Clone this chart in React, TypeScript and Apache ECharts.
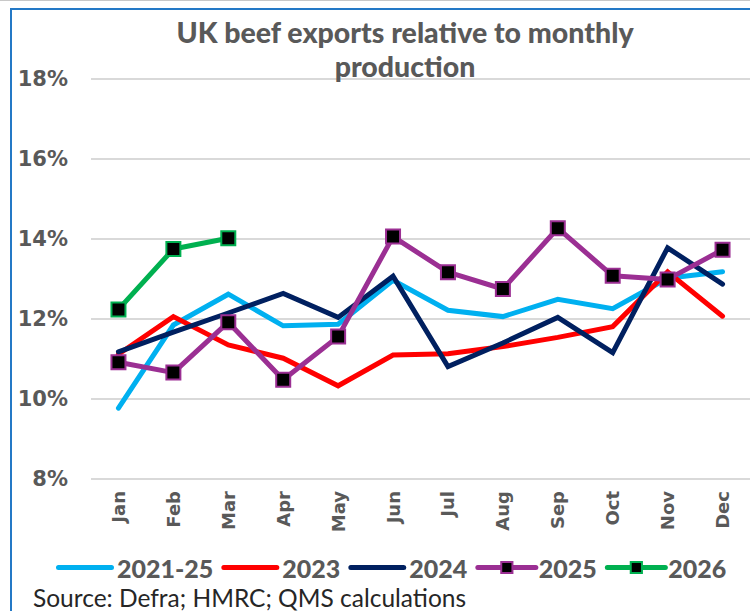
import React, { useEffect, useRef } from "react";
import * as echarts from "echarts";

const months = ["Jan", "Feb", "Mar", "Apr", "May", "Jun", "Jul", "Aug", "Sep", "Oct", "Nov", "Dec"];
const avg2125 = [9.77, 11.85, 12.62, 11.83, 11.87, 12.97, 12.22, 12.06, 12.49, 12.26, 13.02, 13.18];
const y2023 = [11.12, 12.06, 11.35, 11.02, 10.33, 11.1, 11.13, 11.31, 11.54, 11.81, 13.18, 12.07];
const y2024 = [11.18, 11.67, 12.15, 12.64, 12.04, 13.07, 10.81, 11.4, 12.04, 11.16, 13.78, 12.87];
const y2025 = [10.92, 10.66, 11.92, 10.48, 11.56, 14.06, 13.17, 12.75, 14.27, 13.08, 12.99, 13.73];
const y2026 = [12.24, 13.75, 14.02];
const yTicks = { min: 8, max: 18, interval: 2 };
const legendNames = ["2021-25", "2023", "2024", "2025", "2026"];
const titleLines = ["UK beef exports relative to monthly", "production"];

const GRAY = "#595959";
const LINE_ICON = "path://M2.5,0H55.5A2.5,2.5 0 0 1 55.5,5H2.5A2.5,2.5 0 0 1 2.5,0Z";

export default function App() {
  const ref = useRef<HTMLDivElement>(null);
  useEffect(() => {
    if (!ref.current) return;
    const chart = echarts.init(ref.current, null, { renderer: "svg" });
    const plain = (name: string, data: number[], color: string) => ({
      name,
      type: "line",
      data,
      symbol: "none",
      lineStyle: { color, width: 5, cap: "round", join: "miter" },
      itemStyle: { color },
    });
    const marked = (name: string, data: number[], color: string) => ({
      name,
      type: "line",
      data,
      symbol: "rect",
      symbolSize: 14,
      lineStyle: { color, width: 5, cap: "round" },
      itemStyle: { color: "#000000", borderColor: color, borderWidth: 2 },
    });
    chart.setOption({
      animation: false,
      backgroundColor: "#ffffff",
      title: titleLines.map((t, i) => ({
        text: t,
        left: 405,
        textAlign: "center",
        top: 17 + i * 34.5,
        padding: 0,
        textStyle: {
          fontFamily: "Lato",
          fontWeight: 900,
          fontSize: 28.5,
          lineHeight: 29,
          color: GRAY,
        },
      })),
      grid: { left: 91, right: 0, top: 79, bottom: 132, containLabel: false },
      xAxis: {
        type: "category",
        data: months,
        boundaryGap: true,
        axisLine: { show: false },
        axisTick: { show: false },
        axisLabel: {
          rotate: 90,
          margin: 12,
          fontFamily: "DejaVu Sans",
          fontWeight: "bold",
          fontSize: 18,
          color: GRAY,
        },
      },
      yAxis: {
        type: "value",
        min: yTicks.min,
        max: yTicks.max,
        interval: yTicks.interval,
        axisLine: { show: false },
        axisTick: { show: false },
        splitLine: { lineStyle: { color: "#D9D9D9", width: 2 } },
        axisLabel: {
          formatter: "{value}%",
          margin: 23,
          fontFamily: "DejaVu Sans",
          fontWeight: "bold",
          fontSize: 21,
          color: GRAY,
        },
      },
      legend: {
        left: 56,
        top: 555,
        padding: 0,
        itemWidth: 58,
        itemHeight: 14,
        itemGap: 8,
        textStyle: {
          fontFamily: "Lato",
          fontWeight: 900,
          fontSize: 25,
          color: GRAY,
          padding: [0, 0, 0, -2],
        },
        data: legendNames.map((n, i) =>
          i < 3 ? { name: n, icon: LINE_ICON } : { name: n, lineStyle: { width: 5 } }
        ),
      },
      graphic: [
        {
          type: "rect",
          shape: { x: 0, y: 0, width: 750, height: 1 },
          style: { fill: "#C8C8C8" },
          silent: true,
        },
        {
          type: "rect",
          shape: { x: 11, y: 9, width: 800, height: 700 },
          style: { fill: "none", stroke: "#2479C6", lineWidth: 2 },
          silent: true,
        },
        {
          type: "text",
          left: 33,
          top: 585,
          style: {
            text: "Source: Defra; HMRC; QMS calculations",
            fontFamily: "Lato",
            fontSize: 24.5,
            fill: "#262626",
          },
        },
      ],
      series: [
        plain("2021-25", avg2125, "#00B0F0"),
        plain("2023", y2023, "#FF0000"),
        plain("2024", y2024, "#002060"),
        marked("2025", y2025, "#9B2F93"),
        marked("2026", y2026, "#00B050"),
      ],
    });
    return () => chart.dispose();
  }, []);
  return (
    <div
      ref={ref}
      style={{ position: "fixed", left: 0, top: 0, width: 750, height: 611 }}
    />
  );
}
